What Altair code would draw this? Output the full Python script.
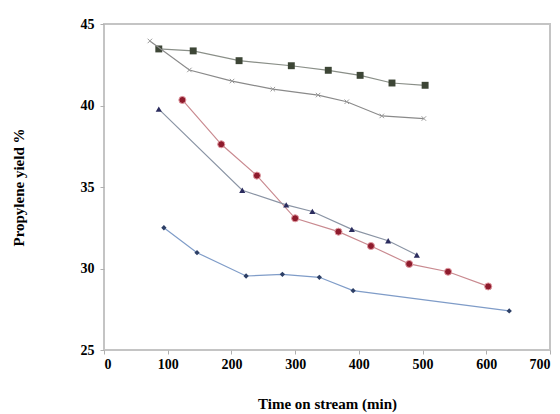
import altair as alt
import pandas as pd

# Series
sq_x = [86, 140, 212, 294, 352, 402, 452, 504]
sq_y = [43.47, 43.35, 42.75, 42.44, 42.16, 41.85, 41.38, 41.24]

cr_x = [72, 134, 201, 265, 336, 381, 436, 502]
cr_y = [43.96, 42.18, 41.5, 41.0, 40.64, 40.23, 39.36, 39.2]

ci_x = [123, 184, 240, 300, 368, 419, 479, 540, 603]
ci_y = [40.34, 37.62, 35.7, 33.08, 32.26, 31.38, 30.28, 29.8, 28.9]

tr_x = [86, 217, 286, 327, 389, 446, 491]
tr_y = [39.78, 34.8, 33.9, 33.5, 32.4, 31.7, 30.83]

di_x = [94, 146, 223, 280, 338, 391, 636]
di_y = [32.5, 30.97, 29.54, 29.64, 29.46, 28.64, 27.4]

x_ticks = [0, 100, 200, 300, 400, 500, 600, 700]
y_ticks = [25, 30, 35, 40, 45]

FONT = "Liberation Serif"

xs = alt.Scale(domain=[0, 700], nice=False, zero=False)
ys = alt.Scale(domain=[25, 45], nice=False, zero=False)

x_axis = alt.Axis(values=x_ticks, title="Time on stream (min)", labelPadding=3,
                  titleY=53, titleBaseline="middle")
y_axis = alt.Axis(values=y_ticks, title="Propylene yield %", labelPadding=6,
                  titleX=-86, titleY=163, titleAngle=-90, titleAlign="center", titleBaseline="middle")

XSHAPE = "M-1,-1L1,1M-1,1L1,-1"


def series(xv, yv, line_color, shape, fill, size, stroke=None, filled=True):
    df = pd.DataFrame({"t": xv, "y": yv})
    enc = dict(x=alt.X("t:Q", scale=xs, axis=x_axis), y=alt.Y("y:Q", scale=ys, axis=y_axis))
    line = alt.Chart(df).mark_line(color=line_color, strokeWidth=1.2).encode(**enc)
    if filled:
        pt = alt.Chart(df).mark_point(shape=shape, filled=True, color=fill, size=size, opacity=1,
                                      stroke=stroke if stroke else fill, strokeWidth=1 if stroke else 0)
    else:
        pt = alt.Chart(df).mark_point(shape=shape, filled=False, color=fill, size=size, opacity=1,
                                      strokeWidth=1)
    pt = pt.encode(**enc)
    return [line, pt]


layers = []
layers += series(sq_x, sq_y, "#8a8f88", "square", "#3d4636", 48)
layers += series(cr_x, cr_y, "#8a8a8a", XSHAPE, "#9a9a9a", 20, filled=False)
layers += series(ci_x, ci_y, "#c98a90", "circle", "#8e1b2c", 50, stroke="#e29aa2")
layers += series(tr_x, tr_y, "#8a94a4", "triangle-up", "#2b2c5e", 38)
layers += series(di_x, di_y, "#7f9cc8", "diamond", "#2d3f66", 28)

chart = alt.layer(*layers).properties(
    width=446, height=326,
    autosize=alt.AutoSizeParams(type="none"),
    padding={"left": 104, "top": 24, "right": 10, "bottom": 64},
).configure(
    background="white"
).configure_view(
    stroke="#c4c4c4", strokeWidth=2
).configure_axis(
    grid=False, domain=False, tickColor="#b0b0b0", tickSize=4,
    labelFont=FONT, labelFontWeight="bold", labelFontSize=14, labelColor="black",
    titleFont=FONT, titleFontWeight="bold", titleFontSize=15, titleColor="black",
)

chart.save("out.html", embed_options={"renderer": "svg", "actions": False})
